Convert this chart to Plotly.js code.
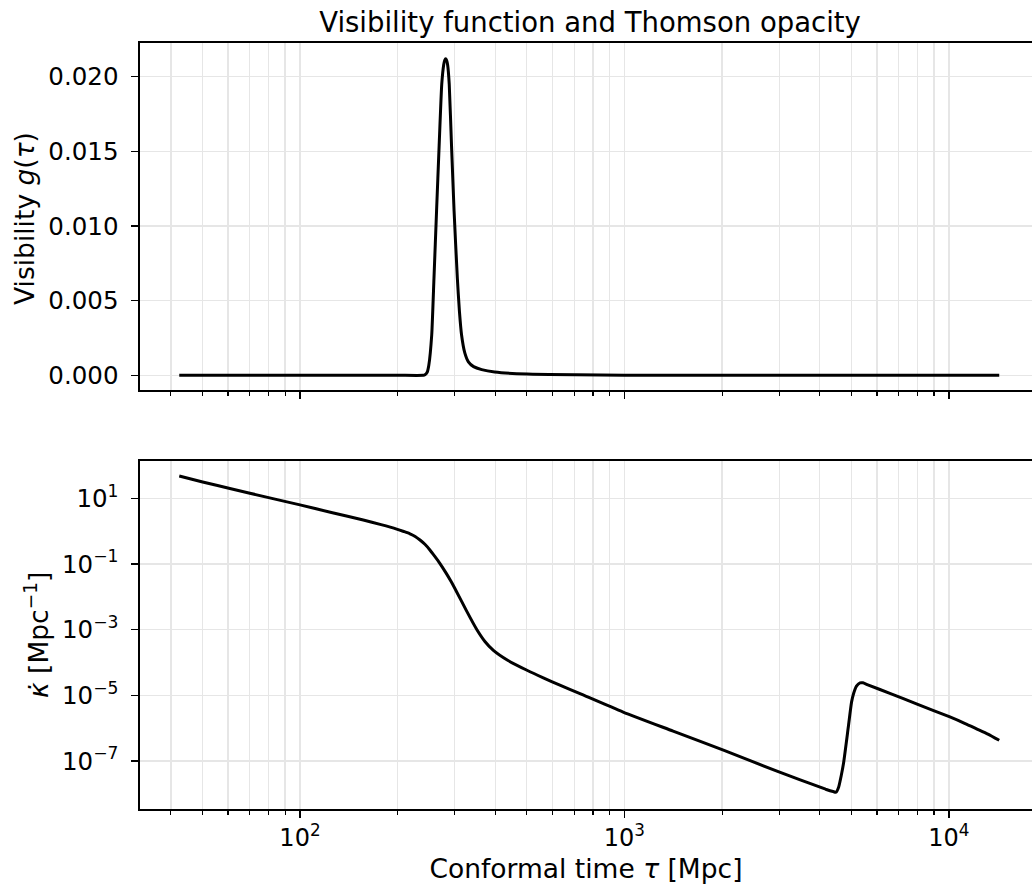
<!DOCTYPE html>
<html>
<head>
<meta charset="utf-8">
<script src="https://cdn.plot.ly/plotly-3.0.1.min.js"></script>
<style>html,body{margin:0;padding:0;background:#fff;}</style>
</head>
<body>
<div id="chart" style="width:1032px;height:888px;"></div>
<script>
// Visibility function g(tau)
const tauG = [42.46, 100, 200, 240.0, 242.7, 246.6, 249.5, 254.7, 258.8, 263.6, 268.5, 273.5, 277.3, 279.3, 281.2, 283.1, 285.1, 288.4, 293.1, 298.5, 305.5, 310.0, 314.8, 322.1, 330.4, 342.8, 363.1, 398.1, 501.2, 707.9, 1000, 1995, 5000, 14289];
const gVals = [0, 0, 0, 0, 0.00003, 0.0002, 0.00067, 0.0027, 0.0065, 0.0110, 0.0154, 0.0195, 0.0208, 0.0211, 0.0212, 0.0211, 0.0208, 0.0195, 0.0154, 0.0110, 0.0065, 0.0043, 0.0027, 0.0015, 0.0009, 0.00058, 0.00038, 0.00022, 0.00008, 0.00003, 0.00001, 0, 0, 0];

// Thomson opacity kappa-dot(tau)
const tauK = [42.46, 50.12, 60.81, 79.43, 100, 125.9, 156.7, 177.8, 198.6, 208.9, 218.3, 226.5, 234.4, 242.7, 251.8, 260.0, 269.8, 281.8, 291.7, 304.1, 325.8, 349.9, 371.5, 394.5, 436.5, 498.9, 562.3, 632.4, 729.5, 990.8, 1412.5, 2018.4, 2951.2, 4168.7, 4395.4, 4487.5, 4570.9, 4655.9, 4731.5, 4897.8, 5011.9, 5081.6, 5188.0, 5321.1, 5432.5, 5623.4, 6576.6, 7943.3, 10069, 11220, 12162, 13183, 14289];
const kVals = [47.9, 31.6, 19.95, 10.7, 6.31, 3.63, 2.19, 1.585, 1.159, 0.977, 0.832, 0.692, 0.537, 0.398, 0.263, 0.174, 0.105, 0.0537, 0.0302, 0.0141, 3.80e-3, 1.05e-3, 4.37e-4, 2.34e-4, 1.17e-4, 5.89e-5, 3.39e-5, 2.04e-5, 1.12e-5, 3.09e-6, 8.13e-7, 2.14e-7, 4.90e-8, 1.38e-8, 1.17e-8, 1.12e-8, 1.58e-8, 3.55e-8, 8.32e-8, 1.10e-6, 6.31e-6, 1.12e-5, 1.91e-5, 2.40e-5, 2.40e-5, 2.09e-5, 1.15e-5, 5.50e-6, 2.19e-6, 1.38e-6, 9.55e-7, 6.61e-7, 4.27e-7];

// Tick labels
const xMajorVals = [100, 1000, 10000];
const xMajorText = ['10<sup>2</sup>', '10<sup>3</sup>', '10<sup>4</sup>'];
const xMinorVals = [40, 50, 60, 70, 80, 90, 200, 300, 400, 500, 600, 700, 800, 900, 2000, 3000, 4000, 5000, 6000, 7000, 8000, 9000];
const gTickVals = [0, 0.005, 0.010, 0.015, 0.020];
const gTickText = ['0.000', '0.005', '0.010', '0.015', '0.020'];
const kTickVals = [10, 0.1, 1e-3, 1e-5, 1e-7];
const kTickText = ['10<sup>1</sup>', '10<sup>−1</sup>', '10<sup>−3</sup>', '10<sup>−5</sup>', '10<sup>−7</sup>'];

const FONT = 'DejaVu Sans, sans-serif';
const GRID = '#e6e6e6';

const traces = [
  {x: tauG, y: gVals, type: 'scatter', mode: 'lines', xaxis: 'x', yaxis: 'y',
   line: {color: 'black', width: 3, shape: 'spline', smoothing: 0.5}, hoverinfo: 'skip'},
  {x: tauK, y: kVals, type: 'scatter', mode: 'lines', xaxis: 'x2', yaxis: 'y2',
   line: {color: 'black', width: 3, shape: 'spline', smoothing: 0.6}, hoverinfo: 'skip'}
];

const xCommon = {
  type: 'log', range: [1.507, 4.256], domain: [0, 1],
  showline: true, linecolor: 'black', linewidth: 1.6, mirror: true,
  ticks: 'outside', ticklen: 7, tickwidth: 1.5, tickcolor: 'black',
  tickmode: 'array', tickvals: xMajorVals, ticktext: xMajorText,
  showgrid: true, gridcolor: GRID, gridwidth: 1.3, zeroline: false,
  minor: {tickmode: 'array', tickvals: xMinorVals, ticks: 'outside', ticklen: 4, tickwidth: 1.2, tickcolor: 'black',
          showgrid: true, gridcolor: GRID, gridwidth: 1.3},
  tickfont: {family: FONT, size: 24, color: 'black'}
};

const layout = {
  width: 1032, height: 888,
  margin: {l: 140, r: 0, t: 43, b: 79},
  paper_bgcolor: 'white', plot_bgcolor: 'white',
  showlegend: false,
  font: {family: FONT, color: 'black'},
  title: {text: 'Visibility function and Thomson opacity', font: {family: FONT, size: 27.5, color: 'black'},
          x: 0.5045, xref: 'paper', xanchor: 'center', y: 1 - 22 / 888, yref: 'container', yanchor: 'middle'},
  xaxis: Object.assign({}, xCommon, {anchor: 'y', showticklabels: false}),
  xaxis2: Object.assign({}, xCommon, {anchor: 'y2', showticklabels: true,
    title: {text: 'Conformal time <i>τ</i> [Mpc]', font: {family: FONT, size: 26.5, color: 'black'}, standoff: 8}}),
  yaxis: {
    domain: [0.5470, 1], range: [-0.000985, 0.022257], anchor: 'x',
    showline: true, linecolor: 'black', linewidth: 1.6, mirror: false,
    ticks: 'outside', ticklen: 7, tickwidth: 1.5, tickcolor: 'black',
    tickmode: 'array', tickvals: gTickVals, ticktext: gTickText, ticklabelstandoff: 8,
    showgrid: true, gridcolor: GRID, gridwidth: 1.3, zeroline: false,
    tickfont: {family: FONT, size: 24.5, color: 'black'}
  },
  yaxis2: {
    type: 'log', domain: [0, 0.4543], range: [-8.463, 2.137], anchor: 'x2',
    showline: true, linecolor: 'black', linewidth: 1.6, mirror: false,
    ticks: 'outside', ticklen: 7, tickwidth: 1.5, tickcolor: 'black',
    tickmode: 'array', tickvals: kTickVals, ticktext: kTickText, ticklabelstandoff: 8,
    showgrid: true, gridcolor: GRID, gridwidth: 1.3, zeroline: false,
    tickfont: {family: FONT, size: 24.5, color: 'black'}
  },
  annotations: [
    {text: 'Visibility <i>g</i>(<i>τ</i>)', textangle: -90, xref: 'paper', yref: 'paper',
     x: -(140 - 25) / 892, y: (809 - 218) / 766, xanchor: 'center', yanchor: 'middle', showarrow: false,
     font: {family: FONT, size: 26.5, color: 'black'}},
    {text: '<i>κ̇</i> [Mpc<sup>−1</sup>]', textangle: -90, xref: 'paper', yref: 'paper',
     x: -(140 - 37) / 892, y: (809 - 635) / 766, xanchor: 'center', yanchor: 'middle', showarrow: false,
     font: {family: FONT, size: 26.5, color: 'black'}}
  ]
};

Plotly.newPlot('chart', traces, layout, {staticPlot: true, displayModeBar: false});
</script>
</body>
</html>
